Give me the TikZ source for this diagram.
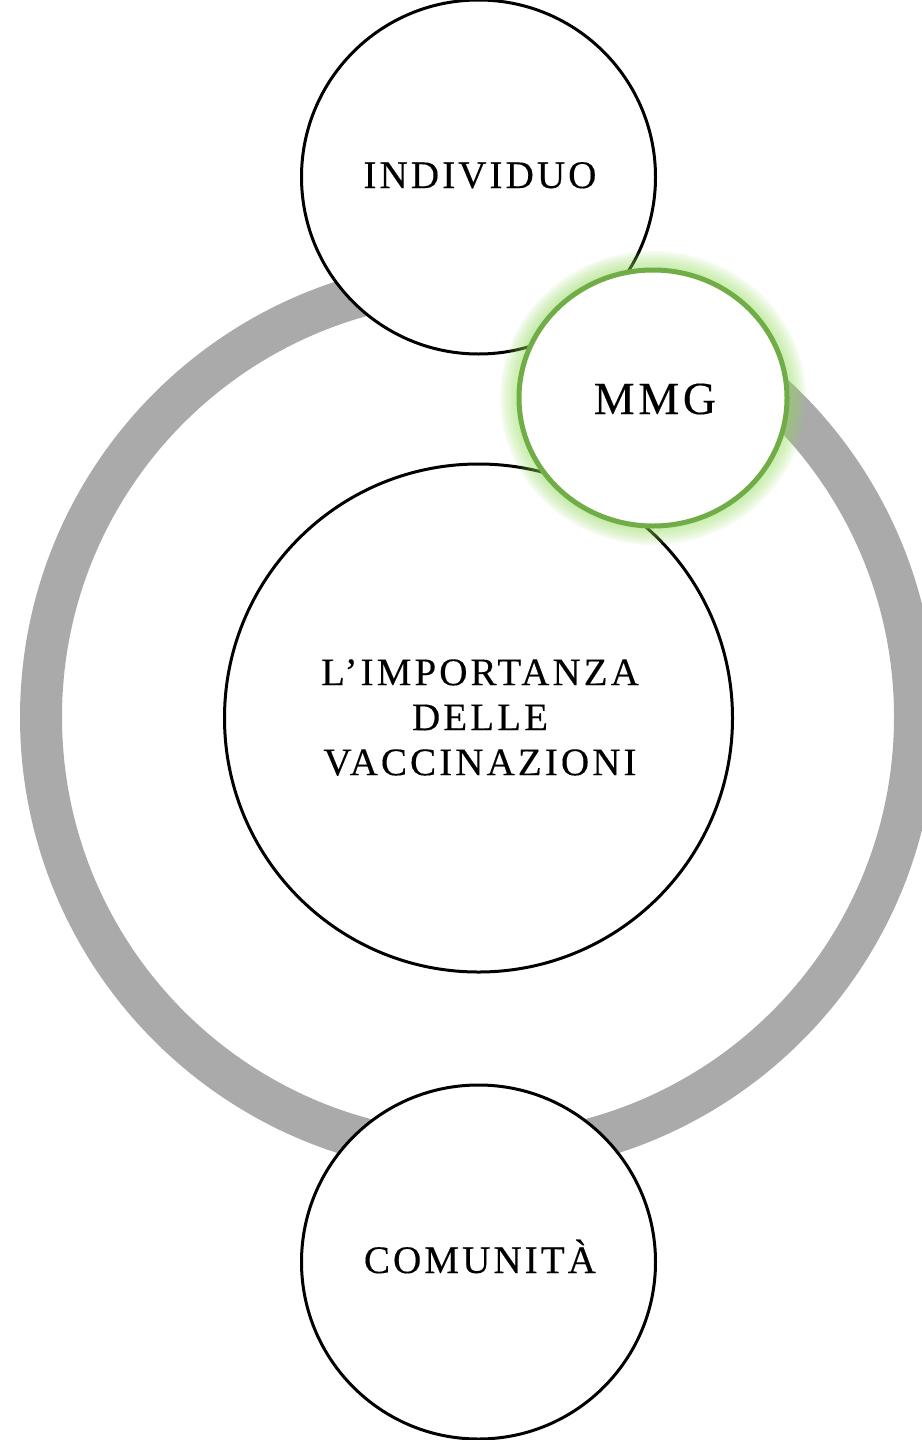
\documentclass[tikz,border=0pt]{standalone}
\usepackage{fontspec}
\newfontfamily\lblfont{Liberation Serif}[LetterSpace=8,FakeBold=0.3]
\usetikzlibrary{shapes.geometric}
\definecolor{ringgray}{RGB}{170,170,170}
\definecolor{mmggreen}{RGB}{112,173,71}
\definecolor{glowgreen}{RGB}{150,220,95}
\tikzset{
  bubble/.style={circle, draw=black, line width=3pt, fill=white, inner sep=0pt},
  lbl/.style={font=\lblfont\fontsize{39}{45}\selectfont, inner sep=0pt, text=black},
  mmgbox/.style={ellipse, draw=mmggreen, line width=5pt, fill=white, inner sep=0pt,
                 minimum width=268pt, minimum height=256pt},
}
\begin{document}
\begin{tikzpicture}[x=1pt,y=-1pt]
\useasboundingbox (0,0) rectangle (921,1440);
% gray ring
\coordinate (ringc) at (478,717);
\draw[ringgray, line width=42pt] (ringc) circle[radius=437pt];
% outer bubbles
\node[bubble, minimum size=354pt] (indiv) at (478.5,177) {};
\node[bubble, minimum size=354pt] (comun) at (478.5,1262) {};
\node[bubble, minimum size=508pt] (centre) at (478.5,718) {};
% glow of MMG
\coordinate (mmgc) at (653,398);
\foreach \w in {3,7,11,15,19,23,27,31,35,38}{
  \draw[glowgreen, line width=\w pt, opacity=0.075] (mmgc) ellipse [x radius=134pt, y radius=128pt];
}
\node[mmgbox] (mmg) at (mmgc) {};
% labels
\node[lbl, anchor=base] (indivt) at (480,188) {INDIVIDUO};
\node[lbl, anchor=base] (comunt) at (480,1273) {COMUNITÀ};
\node[lbl, align=center] (centret) at (480,717.5) {L’IMPORTANZA\\DELLE\\VACCINAZIONI};
\node[font=\lblfont\fontsize{46}{50}\selectfont, inner sep=0pt, anchor=base] (mmgt) at (655,414) {MMG};
\end{tikzpicture}
\end{document}
